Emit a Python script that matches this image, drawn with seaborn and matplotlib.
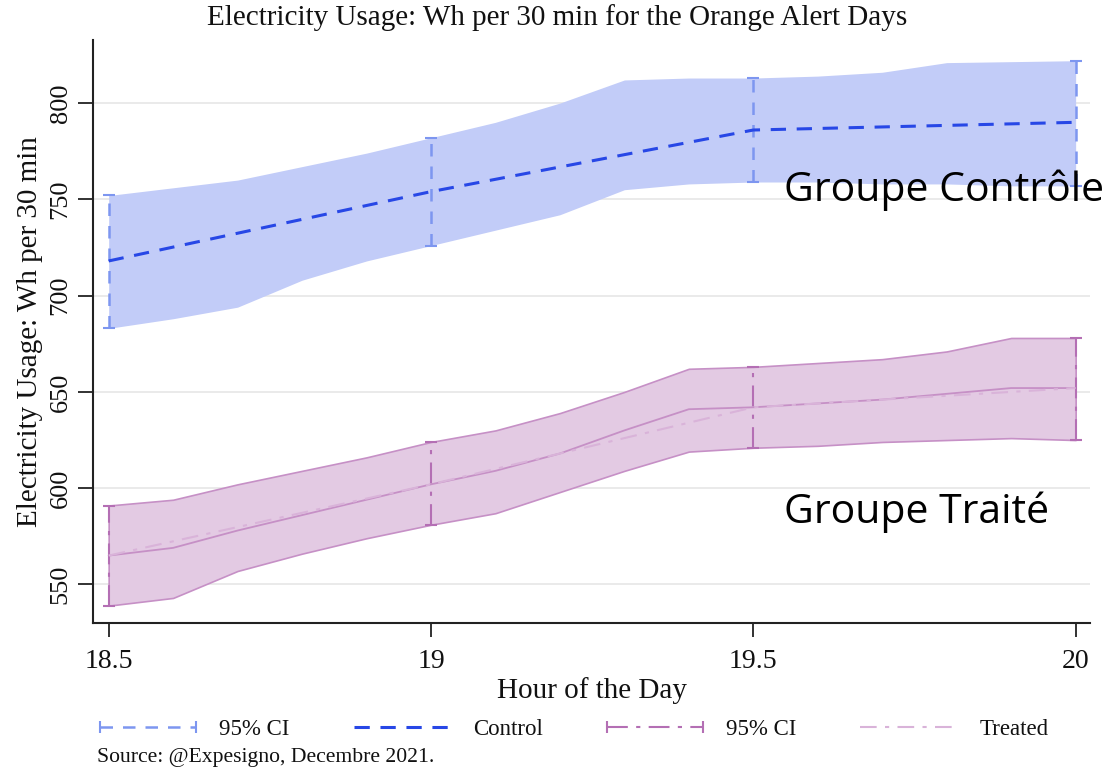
import numpy as np
import pandas as pd
import matplotlib
matplotlib.use("Agg")
import matplotlib.pyplot as plt
import seaborn as sns
from matplotlib.lines import Line2D

# ---------------- data ----------------
hours = [18.5, 18.6, 18.7, 18.8, 18.9, 19.0, 19.1, 19.2, 19.3, 19.4,
         19.5, 19.6, 19.7, 19.8, 19.9, 20.0]
ctrl_upper = [752, 756, 760, 767, 774, 782, 790, 800, 812, 813,
              813, 814, 816, 821, 821.5, 822]
ctrl_lower = [683, 688, 694, 708, 718, 726, 734, 742, 755, 758,
              759, 759, 758, 758, 757, 757]
treat_upper = [591, 594, 602, 609, 616, 624, 630, 639, 650, 662,
               663, 665, 667, 671, 678, 678]
treat_lower = [539, 543, 557, 566, 574, 581, 587, 598, 609, 619,
               621, 622, 624, 625, 626, 625]
treat_mean_fine = [565, 569, 578, 586, 594, 602, 609, 618, 630, 641,
                   642, 644, 646, 649, 652, 652]

half_hours = [18.5, 19.0, 19.5, 20.0]
ctrl_mean = [718, 754, 786, 790]
ctrl_ci_lo = [683, 726, 759, 757]
ctrl_ci_hi = [752, 782, 813, 822]
treat_mean = [565, 602, 642, 652]
treat_ci_lo = [539, 581, 621, 625]
treat_ci_hi = [591, 624, 663, 678]

x_ticks = [18.5, 19, 19.5, 20]
x_ticklabels = ["18.5", "19", "19.5", "20"]
y_ticks = [550, 600, 650, 700, 750, 800]

title = "Electricity Usage: Wh per 30 min for the Orange Alert Days"
xlabel = "Hour of the Day"
ylabel = "Electricity Usage: Wh per 30 min"
legend_labels = ["95% CI", "Control", "95% CI", "Treated"]
source = "Source: @Expesigno, Decembre 2021."
label_ctrl = "Groupe Contrôle"
label_treat = "Groupe Traité"

# ---------------- style ----------------
sns.set_theme(style="white")
plt.rcParams["font.family"] = ["Liberation Serif", "DejaVu Serif"]
plt.rcParams["text.color"] = "#111111"
plt.rcParams["axes.labelcolor"] = "#111111"
plt.rcParams["xtick.color"] = "#111111"
plt.rcParams["ytick.color"] = "#111111"

C_FILL = "#c2ccf8"
C_LINE = "#2747e6"
C_CI = "#7d96f0"
T_FILL = "#e3cae3"
T_EDGE = "#c690c6"
T_CI = "#b46fb4"
T_LINE = "#d9b3d9"

fig = plt.figure(figsize=(11.15, 7.71), dpi=100)
ax = fig.add_axes([0.083, 0.192, 0.895, 0.756])

# bands
ax.fill_between(hours, ctrl_lower, ctrl_upper, color=C_FILL, lw=0, zorder=1)
ax.fill_between(hours, treat_lower, treat_upper, facecolor=T_FILL,
                edgecolor=T_EDGE, lw=1.2, zorder=1)

# treated fine line (solid)
sns.lineplot(x=hours, y=treat_mean_fine, ax=ax, color=T_EDGE, lw=1.3,
             zorder=3, legend=False)

# CI bars
eb = ax.errorbar(half_hours, ctrl_mean,
                 yerr=[np.array(ctrl_mean) - np.array(ctrl_ci_lo),
                       np.array(ctrl_ci_hi) - np.array(ctrl_mean)],
                 fmt="none", ecolor=C_CI, elinewidth=1.8, capsize=4,
                 capthick=1.5, zorder=4)
eb[2][0].set_linestyle((0, (5, 4)))
eb2 = ax.errorbar(half_hours, treat_mean,
                  yerr=[np.array(treat_mean) - np.array(treat_ci_lo),
                        np.array(treat_ci_hi) - np.array(treat_mean)],
                  fmt="none", ecolor=T_CI, elinewidth=1.5, capsize=4,
                  capthick=1.5, zorder=4)
eb2[2][0].set_linestyle((0, (10, 4, 2, 4)))

# mean lines
df_c = pd.DataFrame({"hour": half_hours, "wh": ctrl_mean})
df_t = pd.DataFrame({"hour": half_hours, "wh": treat_mean})
sns.lineplot(data=df_c, x="hour", y="wh", ax=ax, color=C_LINE, lw=2.2,
             zorder=5, legend=False)
ax.lines[-1].set_linestyle((0, (5, 3.5)))
sns.lineplot(data=df_t, x="hour", y="wh", ax=ax, color=T_LINE, lw=1.5,
             zorder=5, legend=False)
ax.lines[-1].set_linestyle((0, (8, 4, 2, 4)))

# axes
ax.set_xlim(18.475, 20.023)
ax.set_ylim(530, 832.7)
ax.set_xticks(x_ticks)
ax.set_xticklabels(x_ticklabels)
ax.set_yticks(y_ticks)
ax.tick_params(axis="y", labelrotation=90, labelsize=19, length=11,
               width=1.3, left=True, color="#222222", pad=4)
ax.tick_params(axis="x", labelsize=20, length=10, width=1.3, bottom=True,
               color="#222222", pad=9)
for lab in ax.get_yticklabels():
    lab.set_va("center")
ax.grid(axis="y", color="#e6e6e6", lw=1.2)
ax.set_axisbelow(True)
sns.despine(ax=ax)
for s in ["left", "bottom"]:
    ax.spines[s].set_color("#222222")
    ax.spines[s].set_linewidth(1.5)

ax.set_xlabel(xlabel, fontsize=21, labelpad=2)
ax.set_ylabel(ylabel, fontsize=21, labelpad=5)
fig.text(0.5, 0.977, title, ha="center", va="center", fontsize=21)

# annotations
ax.text(19.547, 754.8, label_ctrl, fontsize=29.5, family="Open Sans",
        color="black", va="center", ha="left", clip_on=False, zorder=10)
ax.text(19.547, 587.4, label_treat, fontsize=29.5, family="Open Sans",
        color="black", va="center", ha="left", clip_on=False, zorder=10)

# legend
handles = [
    Line2D([], [], color=C_CI, lw=1.8, ls=(0, (5, 4)), marker="|",
           markersize=8, markeredgewidth=1.5),
    Line2D([], [], color=C_LINE, lw=2.2, ls=(0, (5, 3.5))),
    Line2D([], [], color=T_CI, lw=1.5, ls=(0, (10, 4, 2, 4)), marker="|",
           markersize=8, markeredgewidth=1.5),
    Line2D([], [], color=T_LINE, lw=1.5, ls=(0, (8, 4, 2, 4))),
]
fig.legend(handles, legend_labels, loc="center", ncol=4,
           bbox_to_anchor=(0.512, 0.054), frameon=False, fontsize=16.5,
           handlelength=4.8, numpoints=2, columnspacing=2.5,
           handletextpad=0.7)
fig.text(0.087, 0.018, source, fontsize=15.6, ha="left", va="center")

fig.savefig("out.png", dpi=100)
